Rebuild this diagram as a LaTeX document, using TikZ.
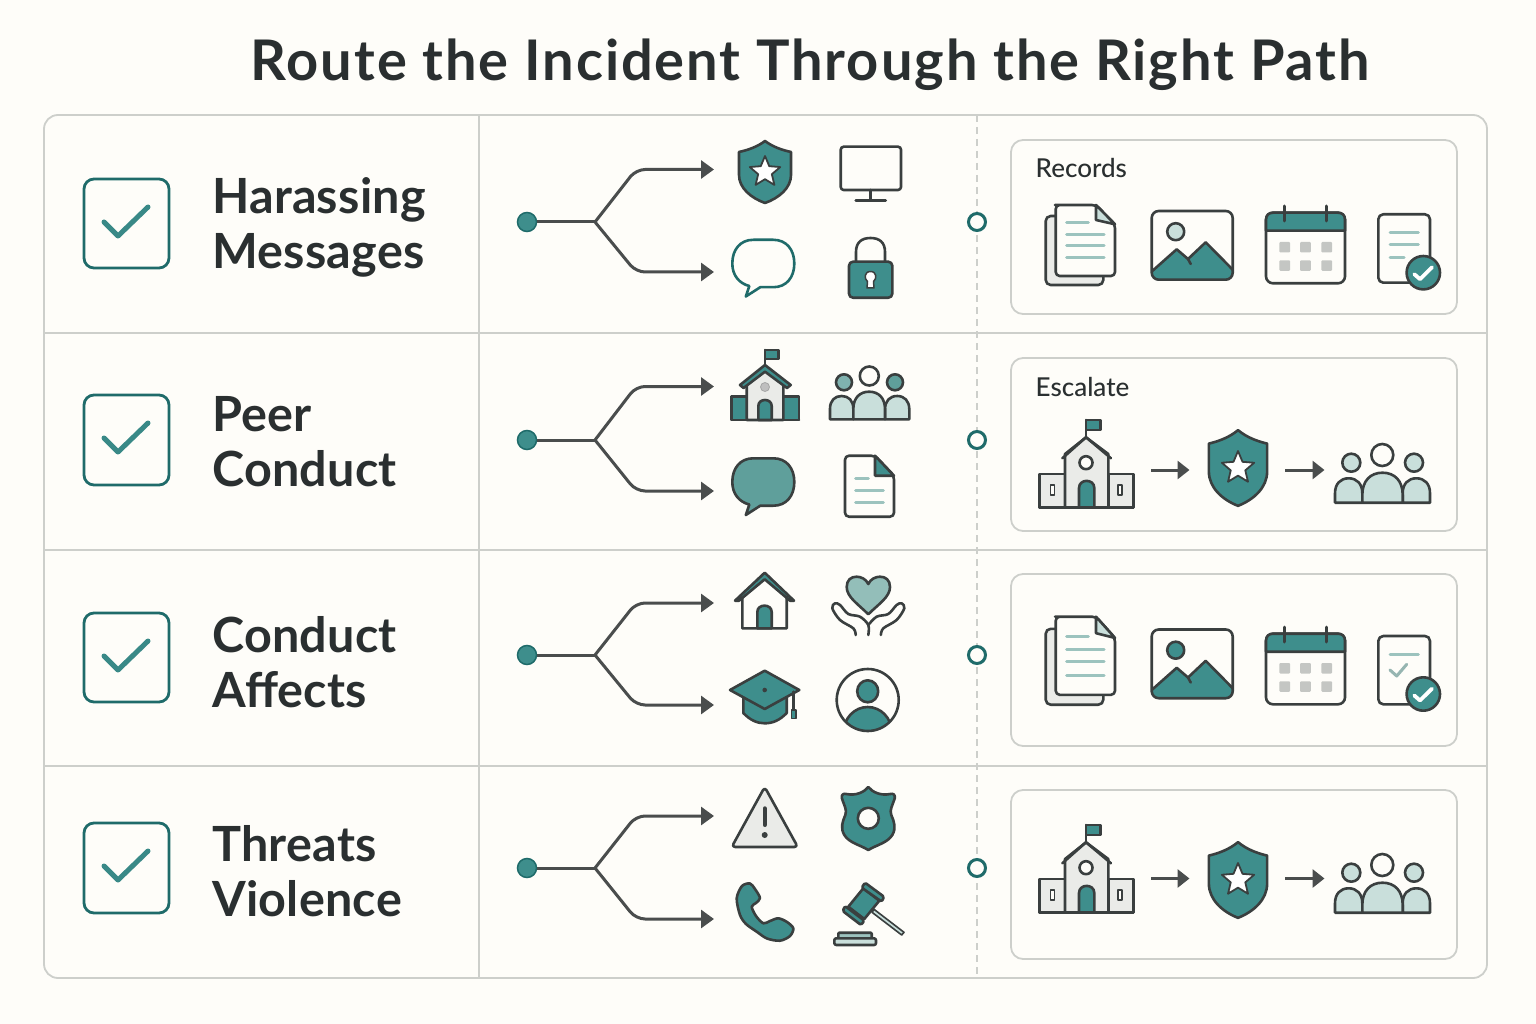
\documentclass[tikz,border=0pt]{standalone}
\usepackage{fontspec}
\usetikzlibrary{arrows.meta}
\setmainfont{Lato}
\newfontfamily\headfont{Lato}[UprightFont=* Bold,LetterSpace=0.5]
\newfontfamily\titlefont{Lato}[UprightFont=* Bold,LetterSpace=3.5]
\newfontfamily\panelfont{Lato}[UprightFont=* Medium]
\definecolor{bgc}{HTML}{FEFDF9}
\definecolor{teal1}{HTML}{3E8E8C}
\definecolor{tealdk}{HTML}{1F6B6A}
\definecolor{ink}{HTML}{3A3F3F}
\definecolor{txt}{HTML}{2A2F30}
\definecolor{rulec}{HTML}{CDCFCB}
\definecolor{tlight}{HTML}{C9DFDB}
\definecolor{tmid}{HTML}{9CC3BE}
\definecolor{tbub}{HTML}{5F9F9B}
\definecolor{gfill}{HTML}{EAEBE8}
\definecolor{gsq}{HTML}{C4C6C3}
\definecolor{arrowc}{HTML}{4A4D4D}
\tikzset{
  x=1pt,y=-1pt,
  ico/.style={draw=ink,line width=2.6pt,line join=round,line cap=round},
  tealico/.style={ico,fill=teal1},
  doclin/.style={draw=tmid,line width=3pt,line cap=round},
  rowlabel/.style={anchor=base west,inner sep=0pt,text=txt,font=\headfont\fontsize{48.5}{48.5}\selectfont},
  panellabel/.style={anchor=base west,inner sep=0pt,text=txt,font=\panelfont\fontsize{26}{26}\selectfont},
  titlelabel/.style={anchor=base west,inner sep=0pt,text=txt,font=\titlefont\fontsize{56}{56}\selectfont},
  tablerule/.style={draw=rulec,line width=1.8pt},
  panelbox/.style={draw=rulec,line width=1.8pt,rounded corners=12pt,fill=bgc},
  checkbox/.style={draw=tealdk,line width=2.8pt,rounded corners=10pt},
  checkmark/.style={draw=teal1!85!tealdk,line width=5pt,line cap=round,line join=round},
  branch/.style={draw=arrowc,line width=3pt,rounded corners=9pt},
  branchend/.style={draw=arrowc,line width=3pt,rounded corners=9pt,-{Triangle[length=13pt,width=18pt,fill=arrowc]}},
  smallarrow/.style={draw=arrowc,line width=3pt,-{Triangle[length=12pt,width=18pt,fill=arrowc]}},
  startdot/.style={circle,draw=tealdk,fill=teal1,line width=1.5pt,minimum size=19pt,inner sep=0pt},
  enddot/.style={circle,draw=tealdk,fill=bgc,line width=3pt,minimum size=17pt,inner sep=0pt}
}
\newcommand{\starshape}[3]{% cx cy R
  \draw[ico,fill=white,line width=1.8pt,shift={(#1,#2)},scale=#3]
  (0,-1)--(.265,-.364)--(.951,-.309)--(.428,.139)--(.588,.809)--(0,.45)--(-.588,.809)--(-.428,.139)--(-.951,-.309)--(-.265,-.364)--cycle;}
\newcommand{\shieldico}[5]{% cx cy xs ys starR
  \draw[tealico,shift={(#1,#2)},xscale=#3,yscale=#4]
   (0,-31) .. controls (-8,-25) and (-17,-22) .. (-26,-20) -- (-26,3)
   .. controls (-26,16) and (-14,26) .. (0,31)
   .. controls (14,26) and (26,16) .. (26,3) -- (26,-20)
   .. controls (17,-22) and (8,-25) .. (0,-31) -- cycle;
  \starshape{#1}{#2}{#5}}
\newcommand{\bubbleico}[3]{% cx cy style
  \draw[#3,shift={(#1,#2)}] (-10,-23.7) -- (10,-23.7)
   .. controls (23,-23.7) and (31,-14) .. (31,0)
   .. controls (31,14) and (23,23.7) .. (10,23.7) -- (-3,23.7) -- (-17.5,33) -- (-14,22.5)
   .. controls (-24,20) and (-31,12) .. (-31,0)
   .. controls (-31,-14) and (-23,-23.7) .. (-10,-23.7) -- cycle;}
\newcommand{\pbody}[5]{% x1 x2 top bot style
  \draw[ico,#5] (#1,#4) -- (#1,{#3+.55*(#2-#1)})
   .. controls (#1,{#3+.2*(#2-#1)}) and ({#1+.2*(#2-#1)},#3) .. ({#1+.5*(#2-#1)},#3)
   .. controls ({#2-.2*(#2-#1)},#3) and (#2,{#3+.2*(#2-#1)}) .. (#2,{#3+.55*(#2-#1)})
   -- (#2,#4) -- cycle;}
\newcommand{\docsico}[3]{% dx dy yscale
 \begin{scope}[shift={(#1,#2)},yscale=#3]
  \draw[ico,fill=gfill,rounded corners=5pt] (1045.7,11) rectangle (1103.3,80);
  \draw[ico,fill=bgc,rounded corners=4pt] (1096,0) -- (1059,0) -- (1055.7,0) -- (1055.7,71) -- (1115,71) -- (1115,19.3) -- cycle;
  \draw[ico,fill=tlight] (1096,0) -- (1096,15) -- (1115,19.3) -- cycle;
  \draw[doclin] (1066.7,18) -- (1088.3,18);
  \draw[doclin] (1066.7,29.7) -- (1104,29.7);
  \draw[doclin] (1066.7,41) -- (1104,41);
  \draw[doclin] (1066.7,53) -- (1104,53);
 \end{scope}}
\newcommand{\imageico}[2]{% dy circlefill
 \begin{scope}[shift={(0,#1)}]
  \begin{scope}
   \clip[rounded corners=7pt] (1151.7,211) rectangle (1232.7,279.7);
   \draw[ico,fill=teal1] (1150,273) -- (1176.7,249.3) -- (1188,259) -- (1205.7,242.3) -- (1235,272) -- (1235,282) -- (1150,282) -- cycle;
  \end{scope}
  \draw[ico] (1188,259) -- (1190.7,264);
  \draw[ico,fill=#2] (1175.7,231.7) circle[radius=8.5];
  \draw[ico,rounded corners=7pt] (1151.7,211) rectangle (1232.7,279.7);
 \end{scope}}
\newcommand{\calico}[1]{% dy
 \begin{scope}[shift={(0,#1)}]
  \draw[ico,fill=bgc,rounded corners=7pt] (1266,212.7) rectangle (1345,283.3);
  \draw[ico,fill=teal1] (1266,230.7) -- (1266,219.7) .. controls (1266,215) and (1269,212.7) .. (1273,212.7) -- (1338,212.7) .. controls (1342,212.7) and (1345,215) .. (1345,219.7) -- (1345,230.7) -- cycle;
  \draw[ico,line width=3pt] (1284.3,206) -- (1284.3,221);
  \draw[ico,line width=3pt] (1326.7,206) -- (1326.7,221);
  \foreach \cx in {1279.3,1300,1321.3} \foreach \cy in {242,260.3}
    \fill[gsq,rounded corners=1pt] (\cx,\cy) rectangle ++(10.8,10.5);
 \end{scope}}
\newcommand{\tickbadge}[2]{% cx cy
  \draw[ico,fill=teal1] (#1,#2) circle[radius=16.7];
  \draw[draw=white,line width=3.8pt,line cap=round,line join=round,shift={(#1,#2)}] (-9,1.5) -- (-3.3,6.5) -- (8.7,-5.4);}
\newcommand{\schoolbig}[1]{% dy
 \begin{scope}[shift={(0,#1)}]
  \draw[ico] (1086,420) -- (1086,438);
  \draw[ico,fill=teal1] (1086,420) rectangle (1100.7,430);
  \draw[ico,fill=gfill] (1039.3,474) rectangle (1065,507.3);
  \draw[ico,fill=gfill] (1108.3,474) rectangle (1133.3,507.3);
  \draw[ico,fill=gfill] (1065,507.3) -- (1065,454) -- (1086,437.3) -- (1108.3,454) -- (1108.3,507.3) -- cycle;
  \draw[ico] (1062.3,458.3) -- (1086,437.3) -- (1111,458.3);
  \draw[ico,line width=1.5pt,fill=bgc] (1050.5,485) rectangle (1054.5,495);
  \draw[ico,line width=1.5pt,fill=bgc] (1118,485) rectangle (1122,495);
  \draw[ico,fill=bgc] (1086,462.7) circle[radius=6.5];
  \draw[ico,fill=teal1] (1079,507.3) -- (1079,488) .. controls (1079,478.5) and (1094.3,478.5) .. (1094.3,488) -- (1094.3,507.3) -- cycle;
  \draw[ico] (1039.3,507.3) -- (1133.3,507.3);
 \end{scope}}
\newcommand{\peoplebig}[1]{% dy
 \begin{scope}[shift={(0,#1)}]
  \draw[ico,fill=tlight] (1351.3,462.7) circle[radius=9];
  \draw[ico,fill=bgc] (1382.3,455) circle[radius=11];
  \draw[ico,fill=tlight] (1414,462.7) circle[radius=9];
  \pbody{1335}{1362.3}{478.3}{502.7}{fill=tlight}
  \pbody{1402.7}{1430}{478.3}{502.7}{fill=tlight}
  \pbody{1362.3}{1402.7}{472.7}{502.7}{fill=tlight}
 \end{scope}}
\newcommand{\rowbranch}[4]{% id mid top bottom
  \node[startdot] (start#1) at (527,#2) {};
  \coordinate (fork#1) at (595,#2);
  \coordinate (benda#1) at (636,#3);
  \coordinate (tipa#1) at (714,#3);
  \coordinate (bendb#1) at (636,#4);
  \coordinate (tipb#1) at (714,#4);
  \draw[branch] (start#1) -- (fork#1);
  \draw[branchend] (fork#1) -- (benda#1) -- (tipa#1);
  \draw[branchend] (fork#1) -- (bendb#1) -- (tipb#1);
  \node[enddot] (end#1) at (977,#2) {};}
\newcommand{\tickbox}[2]{% top bottom
  \draw[checkbox] (84,#1) rectangle (169,#2);
  \draw[checkmark,shift={(0,#1)}] (104,43) -- (118,57) -- (148,28);}
\newcommand{\escalate}[2]{% id dy
  \coordinate (ea#1) at (1151,470+#2);
  \coordinate (eb#1) at (1189.5,470+#2);
  \coordinate (ec#1) at (1285,470+#2);
  \coordinate (ed#1) at (1324.5,470+#2);
  \draw[smallarrow] (ea#1) -- (eb#1);
  \draw[smallarrow] (ec#1) -- (ed#1);}
\begin{document}
\begin{tikzpicture}
\useasboundingbox (0,0) rectangle (1536,1024);
\fill[bgc] (0,0) rectangle (1536,1024);
\node[titlelabel] (title) at (250.5,81) {Route the Incident Through the Right Path};
% table
\draw[tablerule,rounded corners=14pt] (44,115) rectangle (1487,978);
\foreach \ry in {333,550,766} \draw[tablerule] (44,\ry) -- (1487,\ry);
\draw[tablerule] (479,115) -- (479,978);
\draw[draw=rulec,line width=1.2pt,dash pattern=on 7pt off 5pt] (977,115) -- (977,978);
% checkboxes and labels
\tickbox{179}{268}
\tickbox{395}{485}
\tickbox{613}{702}
\tickbox{823}{913}
\node[rowlabel] (r1a) at (212,214) {Harassing};
\node[rowlabel] (r1b) at (212,269) {Messages};
\node[rowlabel] (r2a) at (212,431) {Peer};
\node[rowlabel] (r2b) at (212,486) {Conduct};
\node[rowlabel] (r3a) at (212,652) {Conduct};
\node[rowlabel] (r3b) at (212,707) {Affects};
\node[rowlabel] (r4a) at (212,861) {Threats};
\node[rowlabel] (r4b) at (212,916) {Violence};
% branches
\rowbranch{1}{222}{169.5}{272}
\rowbranch{2}{440}{386.5}{491}
\rowbranch{3}{655}{603}{705}
\rowbranch{4}{868}{816}{919}
% panels
\draw[panelbox] (1011,140) rectangle (1457,314);
\draw[panelbox] (1011,358) rectangle (1457,531);
\draw[panelbox] (1011,574) rectangle (1457,746);
\draw[panelbox] (1011,790) rectangle (1457,959);
\node[panellabel] (records) at (1035.5,178) {Records};
\node[panellabel] (escal) at (1035.5,396) {Escalate};
% row 1 icons
\shieldico{765}{172}{1}{1}{16}
\draw[ico,rounded corners=3pt] (840.7,146.7) rectangle (901,190);
\draw[ico] (870.7,190) -- (870.7,200.7);
\draw[ico] (855.7,200.7) -- (885.7,200.7);
\bubbleico{763.3}{263.5}{draw=tealdk,line width=2.6pt,line join=round}
\draw[ico] (856,262) -- (856,252) .. controls (856,242) and (862,238) .. (870.5,238) .. controls (879,238) and (885,242) .. (885,252) -- (885,262);
\draw[tealico,rounded corners=4pt] (849,261.7) rectangle (892.3,297.7);
\draw[ico,fill=white,line width=1.5pt] (867,288) -- (867.5,281.5) .. controls (864,279) and (864,271.5) .. (870.5,271.5) .. controls (877,271.5) and (877,279) .. (873.5,281.5) -- (874,288) -- cycle;
% row 2 icons
\draw[ico] (765,350) -- (765,366);
\draw[tealico] (765,350) rectangle (778.3,359);
\draw[tealico] (731.7,396.7) rectangle (799,420);
\draw[ico,fill=gfill] (746.7,420) -- (746.7,381) -- (765,368) -- (783.3,381) -- (783.3,420) -- cycle;
\draw[tealico] (765,365) -- (790.7,385) -- (787,388) -- (765,371.7) -- (743.5,388) -- (740,385) -- cycle;
\draw[draw=gray!70,fill=gray!50,line width=.8pt] (765,387) circle[radius=4.5];
\draw[tealico] (758.3,420) -- (758.3,406) .. controls (758.3,398) and (771.7,398) .. (771.7,406) -- (771.7,420) -- cycle;
\draw[ico] (731.7,420) -- (799,420);
\draw[ico,fill=tbub!80] (844,382.3) circle[radius=8];
\draw[ico,fill=bgc] (869.3,376) circle[radius=9.5];
\draw[ico,fill=tbub] (895,382.3) circle[radius=8];
\pbody{830}{853.3}{396}{419.3}{fill=tlight}
\pbody{885}{909.3}{396}{419.3}{fill=tlight}
\pbody{853.3}{885}{391.7}{419.3}{fill=tlight}
\bubbleico{763.3}{482}{ico,fill=tbub}
\draw[ico,fill=bgc,rounded corners=4pt] (875,455.7) -- (845,455.7) -- (845,516.7) -- (894,516.7) -- (894,475.7) -- cycle;
\draw[ico,fill=teal1] (875,455.7) -- (875,475.7) -- (894,475.7) -- cycle;
\draw[doclin] (855.7,478) -- (868.3,478);
\draw[doclin] (855.7,490) -- (883.3,490);
\draw[doclin] (855.7,502.3) -- (883.3,502.3);
% row 3 icons
\draw[ico,fill=bgc] (742.3,628.3) -- (742.3,594) -- (764.7,576) -- (786.7,594) -- (786.7,628.3) -- cycle;
\draw[tealico] (764.7,572.7) -- (794,600.7) -- (790,600.7) -- (764.7,579.3) -- (739,600.7) -- (735,600.7) -- cycle;
\draw[tealico] (757.3,628.3) -- (757.3,612) .. controls (757.3,603.5) and (771.7,603.5) .. (771.7,612) -- (771.7,628.3) -- cycle;
\draw[ico,fill=tmid!90!teal1] (868.3,614.3) .. controls (858,604) and (846.7,597) .. (846.7,587) .. controls (846.7,580) and (851,576.7) .. (856.5,576.7) .. controls (861,576.7) and (866,579) .. (868.3,584) .. controls (870.6,579) and (875.6,576.7) .. (880,576.7) .. controls (885.6,576.7) and (890,580) .. (890,587) .. controls (890,597) and (878.6,604) .. (868.3,614.3) -- cycle;
\draw[ico] plot[smooth,tension=.55] coordinates {(855.7,635) (853.3,628.3) (840,620) (832.3,608.3) (835,603.3) (840,605) (848.3,614) (860,616.7) (868.3,625) (868.3,635)};
\draw[ico] plot[smooth,tension=.55] coordinates {(880.9,635) (883.3,628.3) (896.6,620) (904.3,608.3) (901.6,603.3) (896.6,605) (888.3,614) (876.6,616.7) (868.3,625)};
\draw[tealico] (743.3,695) -- (743.3,713) .. controls (750,720) and (757,723.3) .. (764.7,723.3) .. controls (773,723.3) and (780,720) .. (786.7,713) -- (786.7,695) -- cycle;
\draw[tealico] (764.7,670.7) -- (799.3,690) -- (764.7,709) -- (730,690) -- cycle;
\draw[ico] (793.3,691.7) -- (793.3,710);
\draw[tealico,line width=1.5pt] (791.7,710) rectangle (796,718.3);
\fill[ink] (764.7,690) circle[radius=2.3];
\begin{scope}
 \clip (867.7,700) circle[radius=31];
 \draw[tealico] (867.7,732) ellipse[x radius=24,y radius=25];
\end{scope}
\draw[tealico] (867.7,691.3) ellipse[x radius=10.5,y radius=11];
\draw[ico] (867.7,700) circle[radius=31];
% row 4 icons
\draw[ico,fill=gfill,rounded corners=3.5pt] (764.7,787) -- (797.8,847) -- (731.7,847) -- cycle;
\draw[ico,line width=4pt] (764.7,808.3) -- (764.7,825);
\fill[ink] (764.7,835) circle[radius=3];
\draw[tealico,shift={(868.3,0)}] (0,787) .. controls (-4,792) and (-12,796) .. (-22,794) .. controls (-25,793) and (-27,795) .. (-26.5,798) .. controls (-24,806) and (-21,810) .. (-23,815) .. controls (-26,822) and (-28,828) .. (-24,835) .. controls (-19,843) and (-8,845) .. (0,850) .. controls (8,845) and (19,843) .. (24,835) .. controls (28,828) and (26,822) .. (23,815) .. controls (21,810) and (24,806) .. (26.5,798) .. controls (27,795) and (25,793) .. (22,794) .. controls (12,796) and (4,792) .. (0,787) -- cycle;
\draw[ico,fill=bgc] (868.3,818.3) circle[radius=10.5];
\draw[tealico] plot[smooth cycle,tension=.5] coordinates {(736.7,898.3) (742,886) (750,883.5) (755,889) (760,898) (756,903) (751.7,906.7) (756,916) (763.3,923.3) (770,921) (778.3,918.3) (787,922) (793.3,928.3) (790,936) (780,940.7) (767,938.5) (756.7,931.7) (746,924) (740,915)};
\draw[ico,line width=1.6pt,fill=tlight] (874,909.3) -- (904,932.3) -- (901.7,935) -- (872,912.3) -- cycle;
\draw[tealico] (863.3,888.3) -- (879.3,900.7) -- (864.3,919) -- (848.3,906.7) -- cycle;
\draw[tealico,rounded corners=1.5pt] (865,882.7) -- (884,896.7) -- (881.7,901.7) -- (861.7,887.7) -- cycle;
\draw[tealico,rounded corners=1.5pt] (845,906) -- (864.3,920.7) -- (861,925) -- (842.7,911) -- cycle;
\draw[ico,fill=tmid,rounded corners=1pt] (838.3,938.3) -- (838.3,932.7) -- (871.7,932.7) -- (871.7,938.3);
\draw[ico,fill=tlight,rounded corners=2pt] (834.3,938.3) rectangle (876,945);
% panel 1 contents
\docsico{0}{205}{1}
\imageico{0}{tlight}
\calico{0}
\draw[ico,rounded corners=5pt] (1415,282.7) -- (1378.3,282.7) -- (1378.3,214.3) -- (1430,214.3) -- (1430,262);
\draw[doclin] (1390,232.7) -- (1418.3,232.7);
\draw[doclin] (1390,245) -- (1418.3,245);
\draw[doclin] (1390,257.7) -- (1404,257.7);
\tickbadge{1423.3}{272.7}
% panel 2 contents
\schoolbig{0}
\shieldico{1238}{468}{1.12}{1.22}{17}
\escalate{a}{0}
\peoplebig{0}
% panel 3 contents
\docsico{0}{616.7}{1.1}
\imageico{418.5}{teal1}
\calico{421}
\draw[ico,rounded corners=5pt] (1415,704.3) -- (1378.3,704.3) -- (1378.3,636) -- (1430,636) -- (1430,683);
\draw[doclin] (1390,654) -- (1418.3,654);
\draw[draw=tmid!80!gray,line width=3pt,line cap=round,line join=round] (1390,670) -- (1396.7,676) -- (1406.7,664.3);
\tickbadge{1423.3}{694}
% panel 4 contents
\schoolbig{405}
\shieldico{1238}{880}{1.12}{1.22}{17}
\escalate{b}{408.5}
\peoplebig{410}
\end{tikzpicture}
\end{document}
